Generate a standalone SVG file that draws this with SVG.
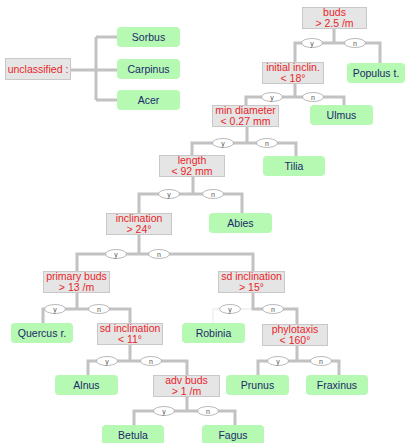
<svg xmlns="http://www.w3.org/2000/svg" width="407" height="443" viewBox="0 0 407 443">
<defs>
<style>
.bg{fill:#ffffff}
.e{fill:none;stroke:#c2c2c2;stroke-width:3;stroke-linejoin:miter}
.thin{fill:none;stroke:#e6e6e6;stroke-width:1}
.lab ellipse{fill:#ffffff;stroke:#a8a8a8;stroke-width:0.8}
.lab text{font-family:"Liberation Sans",Arial,sans-serif;font-size:7px;fill:#555555;text-anchor:middle}
.cond rect{fill:#e5e5e5;stroke:#c8c8c8;stroke-width:1}
.cond text{font-family:"Liberation Sans",Arial,sans-serif;font-size:10.5px;fill:#e8262a;text-anchor:middle}
.leaf rect{fill:#b5f9b2;stroke:none}
.leaf text{font-family:"Liberation Sans",Arial,sans-serif;font-size:10.5px;fill:#1c2a6b;text-anchor:middle}
</style>
</defs>
<rect class="bg" x="0" y="0" width="407" height="443"/>
<g id="connectors">
<path class="e" d="M71,70 H117 M96,37 V100 M96,37 H117 M96,100 H117"/>
<path class="e" d="M334,28 V43 M295,63 V43 H380 V63"/>
<path class="e" d="M295,83 V97 M246,105 V97 H344 V105"/>
<path class="e" d="M247,127 V143 M192,155 V143 H296 V156"/>
<path class="e" d="M193,177 V194 M139,213 V194 H242 V213"/>
<path class="e" d="M139,234 V254 M77,271 V254 H253 V272"/>
<path class="e" d="M77,293 V309 M43,323 V309 H130 V323"/>
<path class="thin" d="M213,323 V309 H252"/>
<path class="e" d="M253,293 V309 H297 V324"/>
<path class="e" d="M130,345 V361 M88,375 V361 H187 V375"/>
<path class="e" d="M297,345 V361 M258,375 V361 H339 V375"/>
<path class="e" d="M187,397 V411 M134,425 V411 H235 V425"/>
<g class="lab">
<ellipse cx="312" cy="43" rx="10.5" ry="4.5"/><text x="312" y="45.5">y</text>
<ellipse cx="355" cy="43" rx="10.5" ry="4.5"/><text x="355" y="45.5">n</text>
<ellipse cx="272" cy="97" rx="10.5" ry="4.5"/><text x="272" y="99.5">y</text>
<ellipse cx="313" cy="97" rx="10.5" ry="4.5"/><text x="313" y="99.5">n</text>
<ellipse cx="223" cy="143" rx="10.5" ry="4.5"/><text x="223" y="145.5">y</text>
<ellipse cx="267" cy="143" rx="10.5" ry="4.5"/><text x="267" y="145.5">n</text>
<ellipse cx="169" cy="194" rx="10.5" ry="4.5"/><text x="169" y="196.5">y</text>
<ellipse cx="213" cy="194" rx="10.5" ry="4.5"/><text x="213" y="196.5">n</text>
<ellipse cx="116" cy="254" rx="10.5" ry="4.5"/><text x="116" y="256.5">y</text>
<ellipse cx="159" cy="254" rx="10.5" ry="4.5"/><text x="159" y="256.5">n</text>
<ellipse cx="55" cy="309" rx="10.5" ry="4.5"/><text x="55" y="311.5">y</text>
<ellipse cx="99" cy="309" rx="10.5" ry="4.5"/><text x="99" y="311.5">n</text>
<ellipse cx="230" cy="309" rx="10.5" ry="4.5"/><text x="230" y="311.5">y</text>
<ellipse cx="273" cy="309" rx="10.5" ry="4.5"/><text x="273" y="311.5">n</text>
<ellipse cx="107" cy="361" rx="10.5" ry="4.5"/><text x="107" y="363.5">y</text>
<ellipse cx="151" cy="361" rx="10.5" ry="4.5"/><text x="151" y="363.5">n</text>
<ellipse cx="278" cy="361" rx="10.5" ry="4.5"/><text x="278" y="363.5">y</text>
<ellipse cx="321" cy="361" rx="10.5" ry="4.5"/><text x="321" y="363.5">n</text>
<ellipse cx="164" cy="411" rx="10.5" ry="4.5"/><text x="164" y="413.5">y</text>
<ellipse cx="208" cy="411" rx="10.5" ry="4.5"/><text x="208" y="413.5">n</text>
</g>
</g>
<g id="unclassified" class="cond"><rect x="5.5" y="58.5" width="65" height="21"/><text x="38" y="73">unclassified :</text></g>
<g id="sorbus" class="leaf"><rect x="117" y="27" width="63" height="20" rx="4"/><text x="148.5" y="41">Sorbus</text></g>
<g id="carpinus" class="leaf"><rect x="117" y="59" width="63" height="20" rx="4"/><text x="148.5" y="73">Carpinus</text></g>
<g id="acer" class="leaf"><rect x="117" y="90" width="63" height="20" rx="4"/><text x="148.5" y="104">Acer</text></g>
<g id="buds" class="cond"><rect x="302.5" y="7.5" width="64" height="21"/><text x="334.5" y="16">buds</text><text x="334.5" y="26.5">&gt; 2.5 /m</text></g>
<g id="populus" class="leaf"><rect x="347" y="63" width="58" height="20" rx="4"/><text x="376" y="77">Populus t.</text></g>
<g id="initial" class="cond"><rect x="262.5" y="62.5" width="61" height="21"/><text x="293" y="71">initial inclin.</text><text x="293" y="81.5">&lt; 18°</text></g>
<g id="ulmus" class="leaf"><rect x="310" y="105" width="63" height="20" rx="4"/><text x="341.5" y="119">Ulmus</text></g>
<g id="mindiam" class="cond"><rect x="212.5" y="105.5" width="66" height="21"/><text x="245.5" y="114">min diameter</text><text x="245.5" y="124.5">&lt; 0.27 mm</text></g>
<g id="tilia" class="leaf"><rect x="263" y="156" width="62" height="20" rx="4"/><text x="294" y="170">Tilia</text></g>
<g id="length" class="cond"><rect x="159.5" y="155.5" width="65" height="21"/><text x="192" y="164">length</text><text x="192" y="174.5">&lt; 92 mm</text></g>
<g id="abies" class="leaf"><rect x="209" y="213" width="63" height="20" rx="4"/><text x="240.5" y="227">Abies</text></g>
<g id="inclination" class="cond"><rect x="106.5" y="213.5" width="65" height="21"/><text x="139" y="222">inclination</text><text x="139" y="232.5">&gt; 24°</text></g>
<g id="primbuds" class="cond"><rect x="43.5" y="271.5" width="66" height="21"/><text x="76.5" y="280">primary buds</text><text x="76.5" y="290.5">&gt; 13 /m</text></g>
<g id="sdincl15" class="cond"><rect x="218.5" y="271.5" width="66" height="21"/><text x="251.5" y="280">sd inclination</text><text x="251.5" y="290.5">&gt; 15°</text></g>
<g id="quercus" class="leaf"><rect x="11" y="323" width="62" height="20" rx="4"/><text x="42" y="337">Quercus r.</text></g>
<g id="sdincl11" class="cond"><rect x="97.5" y="323.5" width="65" height="21"/><text x="130" y="332">sd inclination</text><text x="130" y="342.5">&lt; 11°</text></g>
<g id="robinia" class="leaf"><rect x="182" y="323" width="63" height="20" rx="4"/><text x="213.5" y="337">Robinia</text></g>
<g id="phylotaxis" class="cond"><rect x="262.5" y="324.5" width="65" height="21"/><text x="295" y="333">phylotaxis</text><text x="295" y="343.5">&lt; 160°</text></g>
<g id="alnus" class="leaf"><rect x="55" y="375" width="63" height="20" rx="4"/><text x="86.5" y="389">Alnus</text></g>
<g id="advbuds" class="cond"><rect x="153.5" y="375.5" width="66" height="21"/><text x="186.5" y="384">adv buds</text><text x="186.5" y="394.5">&gt; 1 /m</text></g>
<g id="prunus" class="leaf"><rect x="226" y="375" width="63" height="20" rx="4"/><text x="257.5" y="389">Prunus</text></g>
<g id="fraxinus" class="leaf"><rect x="306" y="375" width="62" height="20" rx="4"/><text x="337" y="389">Fraxinus</text></g>
<g id="betula" class="leaf"><rect x="102" y="425" width="62" height="20" rx="4"/><text x="133" y="439">Betula</text></g>
<g id="fagus" class="leaf"><rect x="202" y="425" width="62" height="20" rx="4"/><text x="233" y="439">Fagus</text></g>
</svg>
